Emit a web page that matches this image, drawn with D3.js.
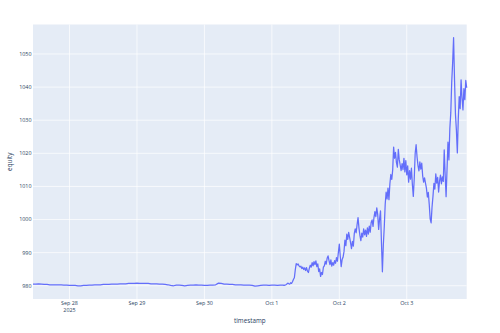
<!DOCTYPE html>
<html><head><meta charset="utf-8">
<script src="https://cdn.jsdelivr.net/npm/d3@7"></script>
<style>html,body{margin:0;padding:0;background:#fff;}svg{display:block;font-family:"Open Sans",verdana,arial,sans-serif;}</style>
</head><body><svg id="c" width="500" height="333"></svg>
<script>
// Data (UTC). Hourly samples from Sep 27 11:00 to Oct 1 04:00.
const flatStart = Date.UTC(2025, 8, 27, 11, 0);
const flatStepMin = 60;
const flatEquity = [
  980.5,980.5,980.6,980.5,980.4,
  980.4,980.3,980.3,980.3,980.3,980.3,
  980.2,980.2,980.1,980.1,980.1,980.0,980.0,980.1,980.1,980.2,980.2,980.3,980.3,
  980.3,980.4,980.4,980.4,980.5,980.5,980.5,980.6,980.6,980.6,980.7,980.7,
  980.7,980.8,980.7,980.7,980.7,980.7,980.6,980.6,980.6,980.5,
  980.5,980.4,980.3,980.1,980.0,980.2,
  980.2,980.1,980.0,980.1,980.2,980.2,980.3,980.2,980.2,980.1,980.1,980.2,980.2,980.3,
  980.8,980.7,980.5,
  980.5,980.4,980.4,980.3,980.3,980.3,980.2,980.2,980.2,
  980.1,979.9,980.0,
  980.1,980.2,980.2,980.1,980.2,980.2,980.1,980.2,980.2
];
// 20-minute samples from Oct 1 04:20 to Oct 3 21:20.
const activeStart = Date.UTC(2025, 9, 1, 4, 20);
const activeStepMin = 20;
const activeEquity = [
  980.1,980.2,980.3,980.5,980.8,980.6,980.5,980.9,980.7,
  981.2,981.9,982.4,984.8,986.7,986.3,986.6,986.0,985.7,985.9,
  985.2,985.6,984.9,985.4,984.6,985.5,984.4,984.0,985.3,986.2,
  985.6,987.0,986.0,987.3,986.4,987.5,985.8,986.6,984.3,985.1,
  982.8,984.0,983.4,985.6,986.0,987.4,986.5,988.3,989.0,987.6,
  986.4,987.8,985.9,987.0,986.2,987.6,986.8,988.5,987.4,990.1,
  992.6,989.0,985.8,987.9,988.6,990.3,993.8,992.1,995.6,994.0,
  996.1,994.6,993.0,991.2,993.4,992.0,995.8,997.2,996.0,998.5,
  1000.6,997.4,995.2,993.6,995.9,994.7,997.2,995.4,996.8,994.9,
  997.5,995.6,998.0,996.2,999.1,999.9,997.9,1000.6,1002.4,1000.9,
  1003.5,1001.5,997.0,1000.2,1002.6,993.0,984.2,992.4,997.8,1004.6,
  1008.3,1006.2,1009.5,1006.0,1010.8,1013.6,1012.1,1015.0,1021.9,1018.5,
  1020.3,1017.2,1015.8,1021.2,1018.0,1016.4,1014.8,1016.9,1015.1,1018.5,
  1014.4,1017.8,1013.5,1016.2,1011.3,1014.8,1012.2,1015.5,1010.6,1007.0,
  1012.4,1020.0,1022.6,1018.9,1016.3,1014.7,1017.4,1015.2,1017.0,1013.2,
  1011.3,1012.6,1011.0,1009.5,1006.8,1008.2,1004.6,1000.2,999.0,1003.8,
  1007.0,1010.9,1009.2,1013.8,1011.0,1012.7,1008.3,1011.6,1013.4,1010.8,
  1012.9,1011.5,1021.0,1013.5,1006.9,1015.2,1023.4,1018.0,1027.5,1032.2,
  1041.5,1047.4,1054.9,1042.2,1031.8,1027.0,1020.1,1030.4,1037.1,1033.5,
  1042.2,1036.8,1033.1,1039.5,1036.2,1042.0,1039.8
];
const yTicks = [980, 990, 1000, 1010, 1020, 1030, 1040, 1050];
const xLabel = "timestamp";
const yLabel = "equity";

const data = [];
flatEquity.forEach((v, i) => data.push({t: new Date(flatStart + i * flatStepMin * 60000), v}));
activeEquity.forEach((v, i) => data.push({t: new Date(activeStart + i * activeStepMin * 60000), v}));

const svg = d3.select("#c");
const L = 33, R = 466.7, T = 24.5, B = 299;
const x = d3.scaleUtc().domain(d3.extent(data, d => d.t)).range([L, R]);
const y = d3.scaleLinear().domain([976.0, 1058.9]).range([B, T]);

svg.append("rect").attr("x", L).attr("y", T).attr("width", R - L).attr("height", B - T).attr("fill", "#E5ECF6");

const xt = x.ticks(d3.utcDay.every(1));
svg.append("g").selectAll("line").data(xt).join("line")
  .attr("x1", d => x(d)).attr("x2", d => x(d)).attr("y1", T).attr("y2", B)
  .attr("stroke", "#fff").attr("stroke-width", 0.7);
svg.append("g").selectAll("line").data(yTicks).join("line")
  .attr("x1", L).attr("x2", R).attr("y1", d => y(d)).attr("y2", d => y(d))
  .attr("stroke", "#fff").attr("stroke-width", 0.7);

const line = d3.line().x(d => x(d.t)).y(d => y(d.v));
svg.append("path").datum(data).attr("d", line).attr("fill", "none")
  .attr("stroke", "#636efa").attr("stroke-width", 1.25).attr("stroke-linejoin", "round");

const tc = "#2a3f5f";
svg.append("g").selectAll("text").data(yTicks).join("text")
  .attr("x", L - 1.5).attr("y", d => y(d)).attr("dy", "0.35em").attr("text-anchor", "end")
  .attr("font-size", 5.4).attr("fill", tc).text(d => d);

const fmt = d3.utcFormat("%b %-d");
const xg = svg.append("g").selectAll("text").data(xt).join("text")
  .attr("x", d => x(d)).attr("y", 305.2).attr("text-anchor", "middle")
  .attr("font-size", 5.4).attr("fill", tc);
xg.append("tspan").attr("x", d => x(d)).text(d => fmt(d));
xg.filter((d, i) => i === 0).append("tspan").attr("x", d => x(d)).attr("dy", "1.3em").text(d => d.getUTCFullYear());

svg.append("text").attr("x", (L + R) / 2).attr("y", 323).attr("text-anchor", "middle")
  .attr("font-size", 6.3).attr("fill", tc).text(xLabel);
svg.append("text").attr("transform", `translate(12,${(T + B) / 2}) rotate(-90)`).attr("text-anchor", "middle")
  .attr("font-size", 6.3).attr("fill", tc).text(yLabel);
</script></body></html>
